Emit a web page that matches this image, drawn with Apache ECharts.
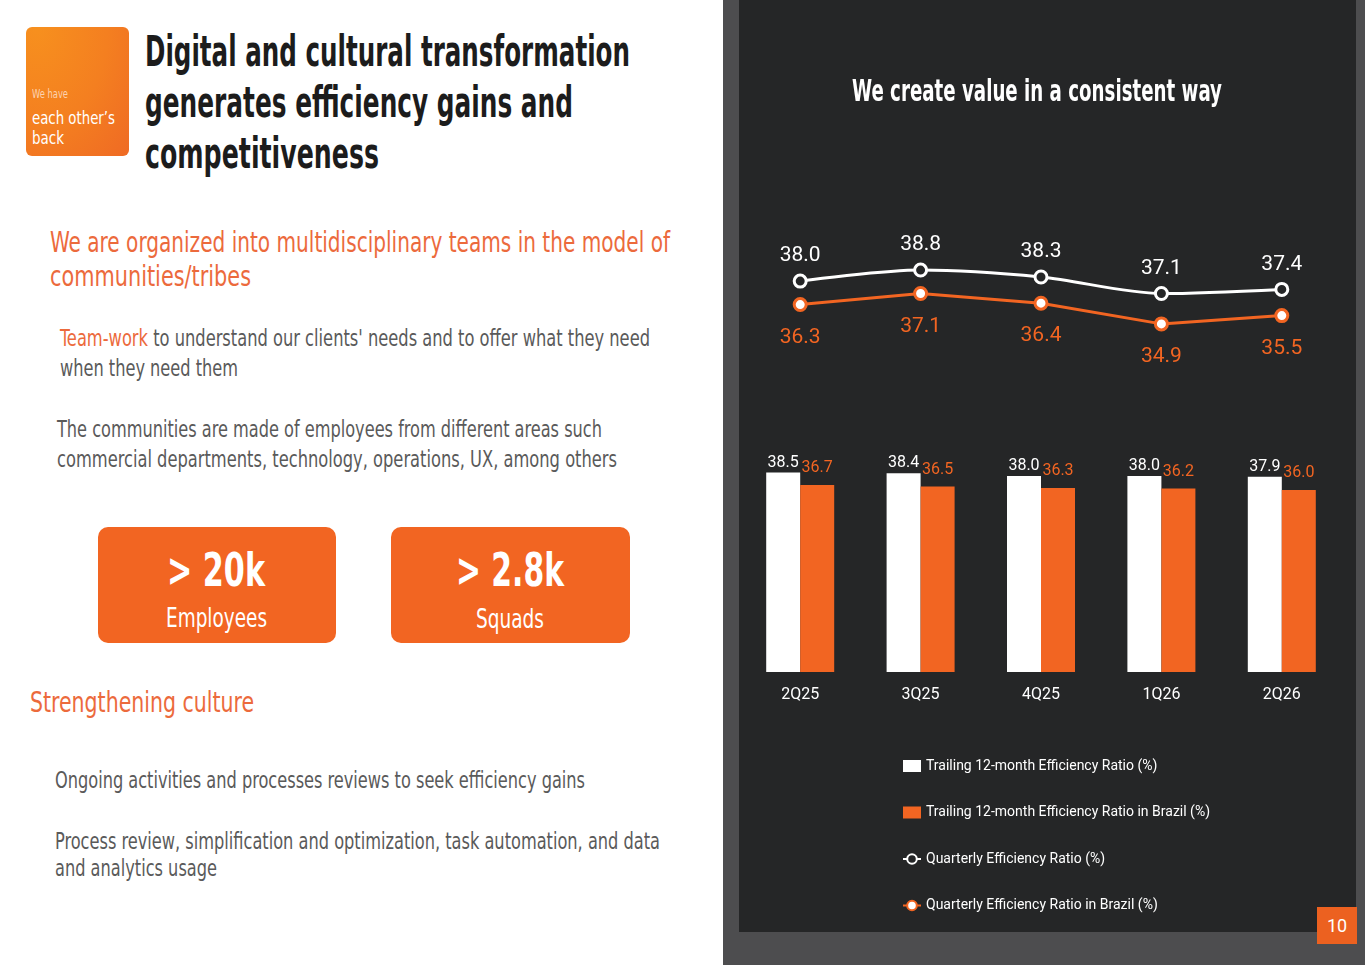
<!DOCTYPE html>
<html>
<head>
<meta charset="utf-8">
<script src="https://cdn.jsdelivr.net/npm/echarts@6/dist/echarts.min.js"></script>
<style>
  html,body{margin:0;padding:0;width:1365px;height:965px;overflow:hidden;background:#fff;}
  body{font-family:"Liberation Sans Narrow","DejaVu Sans Condensed",sans-serif;}
  .t{position:absolute;white-space:nowrap;line-height:1;transform-origin:0 50%;}
  .badge{position:absolute;left:26px;top:27px;width:103px;height:129px;border-radius:6px;
    background:radial-gradient(ellipse at 10% 0%, #F7901E 0%, #F47F20 55%, #EF6A24 100%);}
  .box{position:absolute;top:527px;height:116px;border-radius:10px;background:#F26522;}
  #panel{position:absolute;left:723px;top:0;width:642px;height:965px;background:#4d4d4f;}
  #inner{position:absolute;left:739px;top:0;width:617px;height:932px;background:#252627;}
  #pnum{position:absolute;left:1317px;top:907px;width:40px;height:37px;background:#EC6120;color:#fff;
    font-family:Roboto,sans-serif;font-size:18px;line-height:37px;text-align:center;}
  #chart{position:absolute;left:0;top:0;width:1365px;height:965px;pointer-events:none;}
</style>
</head>
<body>
<div class="badge"></div>
<div class="t" data-x="32" data-cy="94" data-w="36" style="font-size:12px;color:#FCD2B0;">We have</div>
<div class="t" data-x="32" data-cy="118" data-w="83" style="font-size:18px;color:#fff;">each other’s</div>
<div class="t" data-x="32" data-cy="138" data-w="32" style="font-size:18px;color:#fff;">back</div>

<div class="t" data-x="145" data-cy="53" data-w="485" style="font-size:42px;font-weight:700;color:#1c1c1c;">Digital and cultural transformation</div>
<div class="t" data-x="145" data-cy="104" data-w="428" style="font-size:42px;font-weight:700;color:#1c1c1c;">generates efficiency gains and</div>
<div class="t" data-x="145" data-cy="155" data-w="234" style="font-size:42px;font-weight:700;color:#1c1c1c;">competitiveness</div>

<div class="t" data-x="50" data-cy="243" data-w="620" style="font-size:29px;color:#EC6A3C;">We are organized into multidisciplinary teams in the model of</div>
<div class="t" data-x="50" data-cy="277" data-w="201" style="font-size:29px;color:#EC6A3C;">communities/tribes</div>

<div class="t" data-x="60" data-cy="339" data-w="590" style="font-size:23px;color:#5a5a5a;"><span style="color:#EC6A3C">Team-work</span> to understand our clients' needs and to offer what they need</div>
<div class="t" data-x="60" data-cy="369" data-w="178" style="font-size:23px;color:#5a5a5a;">when they need them</div>

<div class="t" data-x="57" data-cy="430" data-w="545" style="font-size:23px;color:#5a5a5a;">The communities are made of employees from different areas such</div>
<div class="t" data-x="57" data-cy="460" data-w="560" style="font-size:23px;color:#5a5a5a;">commercial departments, technology, operations, UX, among others</div>

<div class="box" style="left:98px;width:238px;"></div>
<div class="box" style="left:391px;width:239px;"></div>
<div class="t" data-cx="216" data-cy="571" data-w="98" style="font-size:46px;font-weight:700;color:#fff;">&gt; 20k</div>
<div class="t" data-cx="216" data-cy="619" data-w="101" style="font-size:26px;color:#fff;">Employees</div>
<div class="t" data-cx="510" data-cy="571" data-w="108" style="font-size:46px;font-weight:700;color:#fff;">&gt; 2.8k</div>
<div class="t" data-cx="510" data-cy="620" data-w="68" style="font-size:26px;color:#fff;">Squads</div>

<div class="t" data-x="30" data-cy="703" data-w="224" style="font-size:29px;color:#EC6A3C;">Strengthening culture</div>

<div class="t" data-x="55" data-cy="781" data-w="530" style="font-size:23px;color:#5a5a5a;">Ongoing activities and processes reviews to seek efficiency gains</div>
<div class="t" data-x="55" data-cy="842" data-w="605" style="font-size:23px;color:#5a5a5a;">Process review, simplification and optimization, task automation, and data</div>
<div class="t" data-x="55" data-cy="869" data-w="162" style="font-size:23px;color:#5a5a5a;">and analytics usage</div>

<div id="panel"></div>
<div id="inner"></div>
<div id="pnum">10</div>
<div id="chart"></div>

<script>
// ---- data ----
const categories = ['2Q25', '3Q25', '4Q25', '1Q26', '2Q26'];
const trailingRatio = [38.5, 38.4, 38.0, 38.0, 37.9];
const trailingRatioBrazil = [36.7, 36.5, 36.3, 36.2, 36.0];
const quarterlyRatio = [38.0, 38.8, 38.3, 37.1, 37.4];
const quarterlyRatioBrazil = [36.3, 37.1, 36.4, 34.9, 35.5];
const seriesNames = [
  'Trailing 12-month Efficiency Ratio (%)',
  'Trailing 12-month Efficiency Ratio in Brazil (%)',
  'Quarterly Efficiency Ratio (%)',
  'Quarterly Efficiency Ratio in Brazil (%)'
];
const chartTitle = 'We create value in a consistent way';

const FONT = '"Liberation Sans Narrow","DejaVu Sans Condensed",sans-serif';
const LFONT = 'Roboto, sans-serif';
const ORANGE = '#F26522';
const DARK = '#252627';

// ---- fit left-side text lines ----
function fitText() {
  document.querySelectorAll('.t').forEach(el => {
    el.style.transform = 'none';
    const fs = parseFloat(el.style.fontSize);
    const natural = el.getBoundingClientRect().width;
    const w = parseFloat(el.dataset.w);
    const s = w / natural;
    const cy = parseFloat(el.dataset.cy);
    el.style.top = (cy - fs * 0.52) + 'px';
    if (el.dataset.cx !== undefined) {
      el.style.left = (parseFloat(el.dataset.cx) - w / 2) + 'px';
    } else {
      el.style.left = el.dataset.x + 'px';
    }
    el.style.transform = 'scaleX(' + s + ')';
  });
}
fitText();

function measure(text, font) {
  const c = document.createElement('canvas').getContext('2d');
  c.font = font;
  return c.measureText(text).width;
}
const titleFont = 'bold 30px ' + FONT;
const titleScale = 370 / measure(chartTitle, titleFont);

const fmt = p => Number(p.value).toFixed(1);

const chart = echarts.init(document.getElementById('chart'), null, {renderer: 'canvas'});
chart.setOption({
  animation: false,
  backgroundColor: 'transparent',
  textStyle: {fontFamily: LFONT},
  graphic: [{
    type: 'text',
    x: 1037, y: 93,
    scaleX: titleScale,
    style: {
      text: chartTitle,
      fill: '#fff',
      font: titleFont,
      textAlign: 'center',
      textVerticalAlign: 'middle'
    }
  }],
  grid: [
    {left: 740, right: 23, top: 462, bottom: 293},
    {left: 740, right: 23, top: 253.5, bottom: 573.5}
  ],
  xAxis: [
    {type: 'category', gridIndex: 0, data: categories,
     axisLine: {show: false}, axisTick: {show: false},
     axisLabel: {color: '#fff', fontSize: 16, margin: 15, fontFamily: LFONT}},
    {type: 'category', gridIndex: 1, data: categories, show: false}
  ],
  yAxis: [
    {type: 'value', gridIndex: 0, min: 10, max: 40, show: false},
    {type: 'value', gridIndex: 1, min: 30, max: 40, show: false}
  ],
  legend: {
    orient: 'vertical',
    left: 902, top: 759,
    padding: 0,
    itemGap: 32.5,
    itemWidth: 18, itemHeight: 12,
    textStyle: {color: '#fff', fontSize: 14, fontFamily: LFONT},
    data: [
      {name: seriesNames[0], icon: 'rect'},
      {name: seriesNames[1], icon: 'rect'},
      {name: seriesNames[2]},
      {name: seriesNames[3]}
    ]
  },
  series: [
    {
      name: seriesNames[0], type: 'bar', xAxisIndex: 0, yAxisIndex: 0,
      data: trailingRatio, barWidth: 34, barGap: '0%',
      itemStyle: {color: '#ffffff'},
      label: {show: true, position: 'top', distance: 2, color: '#fff', fontSize: 16, fontFamily: LFONT, formatter: fmt}
    },
    {
      name: seriesNames[1], type: 'bar', xAxisIndex: 0, yAxisIndex: 0,
      data: trailingRatioBrazil, barWidth: 34, barGap: '0%',
      itemStyle: {color: ORANGE},
      label: {show: true, position: 'top', distance: 9, color: ORANGE, fontSize: 16, fontFamily: LFONT, formatter: fmt}
    },
    {
      name: seriesNames[2], type: 'line', xAxisIndex: 1, yAxisIndex: 1,
      data: quarterlyRatio, smooth: 0.3,
      symbol: 'circle', symbolSize: 12,
      lineStyle: {color: '#fff', width: 3},
      itemStyle: {color: DARK, borderColor: '#fff', borderWidth: 3},
      label: {show: true, position: 'top', distance: 7, color: '#fff', fontSize: 21, fontFamily: LFONT, formatter: fmt}
    },
    {
      name: seriesNames[3], type: 'line', xAxisIndex: 1, yAxisIndex: 1,
      data: quarterlyRatioBrazil,
      symbol: 'circle', symbolSize: 12,
      lineStyle: {color: ORANGE, width: 3},
      itemStyle: {color: '#fff', borderColor: ORANGE, borderWidth: 3},
      label: {show: true, position: 'bottom', distance: 15, color: ORANGE, fontSize: 21, fontFamily: LFONT, formatter: fmt}
    }
  ]
});
</script>
</body>
</html>
